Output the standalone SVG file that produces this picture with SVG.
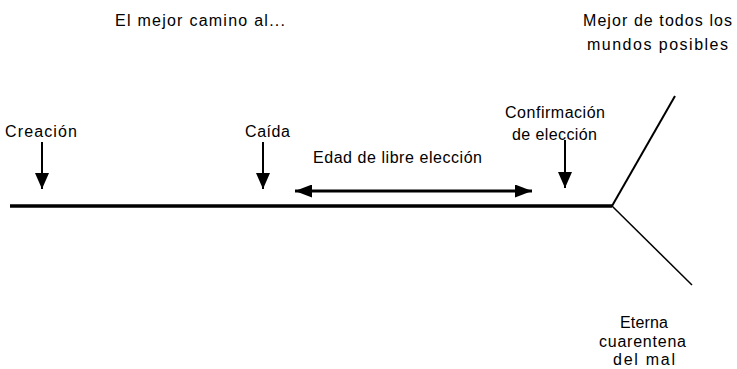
<svg xmlns="http://www.w3.org/2000/svg" width="737" height="369" viewBox="0 0 737 369">
<style>
text{font-family:"Liberation Sans",Arial,sans-serif;font-size:16px;fill:#000}
.mid{text-anchor:middle}
.ln{stroke:#000;fill:none}
</style>
<defs>
<marker id="ahv" viewBox="0 0 16 14" refX="16" refY="7" markerWidth="16" markerHeight="14" orient="auto-start-reverse" markerUnits="userSpaceOnUse">
<path d="M0,0 L16,7 L0,14 z" fill="#000"/>
</marker>
<marker id="ahh" viewBox="0 0 17 13" refX="17" refY="6.5" markerWidth="17" markerHeight="13" orient="auto-start-reverse" markerUnits="userSpaceOnUse">
<path d="M0,0 L17,6.5 L0,13 z" fill="#000"/>
</marker>
</defs>
<rect width="737" height="369" fill="#fff"/>
<g id="title"><text x="115" y="26" textLength="170" lengthAdjust="spacing">El mejor camino al...</text></g>
<g id="mejor"><text x="583" y="26" textLength="149" lengthAdjust="spacing">Mejor de todos los</text><text x="587" y="50" textLength="141" lengthAdjust="spacing">mundos posibles</text></g>
<g id="creacion"><text x="5" y="137" textLength="72" lengthAdjust="spacing">Creación</text></g>
<g id="caida"><text x="245" y="137" textLength="45" lengthAdjust="spacing">Caída</text></g>
<g id="edad"><text x="313" y="163" textLength="169" lengthAdjust="spacing">Edad de libre elección</text></g>
<g id="confirmacion"><text x="505" y="118" textLength="100" lengthAdjust="spacing">Confirmación</text><text x="512" y="140" textLength="85" lengthAdjust="spacing">de elección</text></g>
<g id="eterna"><text x="620" y="328" textLength="48" lengthAdjust="spacing">Eterna</text><text x="599" y="347" textLength="87" lengthAdjust="spacing">cuarentena</text><text x="613" y="365" textLength="62" lengthAdjust="spacing">del mal</text></g>
<g id="connectors">
<line class="ln" x1="10" y1="206" x2="612" y2="206" stroke-width="3.5"/>
<line class="ln" x1="612" y1="206" x2="675" y2="96" stroke-width="2"/>
<line class="ln" x1="612" y1="206" x2="692" y2="285" stroke-width="1.5" stroke="#333"/>
<line class="ln" x1="42" y1="142" x2="42" y2="189" stroke-width="2" marker-end="url(#ahv)"/>
<line class="ln" x1="263" y1="142" x2="263" y2="189" stroke-width="2" marker-end="url(#ahv)"/>
<line class="ln" x1="565" y1="140" x2="565" y2="188" stroke-width="2" marker-end="url(#ahv)"/>
<line class="ln" x1="295" y1="191" x2="532" y2="191" stroke-width="3" marker-start="url(#ahh)" marker-end="url(#ahh)"/>
</g>
</svg>
